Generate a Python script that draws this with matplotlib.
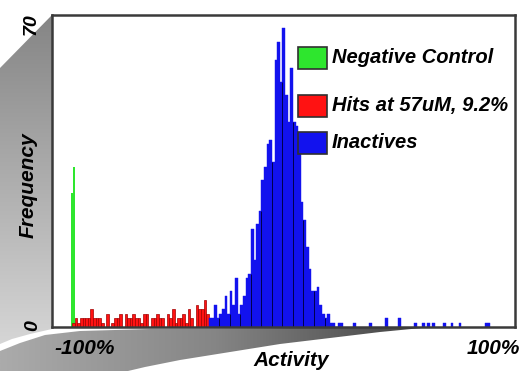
import numpy as np
import matplotlib.pyplot as plt
from matplotlib.patches import Polygon, Rectangle
from matplotlib.colors import LinearSegmentedColormap

# histogram data (activity in %, counts)
bin_width = 1.25

green_edges = [-100.6, -99.65]
green_counts = [30, 36]

red_start = -100.0
red_counts = [1, 2, 1, 2, 2, 2, 2, 4, 2, 2, 2, 1, 0, 3, 0, 1, 2, 2, 3, 0,
              3, 2, 2, 3, 2, 2, 1, 3, 3, 0, 2, 2, 3, 2, 2, 0, 3, 2, 4, 1,
              2, 2, 3, 1, 4, 2, 0, 5, 4, 4, 6, 3]

blue_start = -35.0
blue_counts = [2, 2, 5, 2, 3, 4, 7, 3, 8, 5, 11, 3, 5, 7, 11, 12, 22, 15, 23, 26,
               33, 36, 41, 42, 37, 60, 64, 55, 67, 52, 46, 58, 46, 45, 40, 28, 24, 18, 13, 8,
               8, 9, 5, 3, 2, 3, 1, 1, 0, 1, 1]
blue_tail_edges = [33.75, 41.25, 48.75, 55.0, 62.5, 66.25, 68.75, 71.25, 76.25, 80.0, 83.75, 96.25, 97.5]
blue_tail_counts = [1, 1, 2, 2, 1, 1, 1, 1, 1, 1, 1, 1, 1]

labels = ['Negative Control', 'Hits at 57uM, 9.2%', 'Inactives']
green, red, blue = '#2ee62e', '#ff1212', '#1212ee'

font = dict(family='Liberation Sans', weight='bold', style='italic')

fig = plt.figure(figsize=(5.27, 3.71), dpi=100)

# grey decoration behind the chart (pixel coordinates)
bg = fig.add_axes([0, 0, 1, 1])
bg.axis('off')
left_poly = Polygon([(0, 68), (52, 15), (52, 329), (30, 334), (12, 339), (0, 344)],
                    closed=True, fc='none', ec='none')
bg.add_patch(left_poly)
cm_left = LinearSegmentedColormap.from_list('l', ['#858585', '#d6d6d6'])
im = bg.imshow(np.linspace(0, 1, 256)[:, None], extent=(0, 52, 345, 15), origin='upper',
               cmap=cm_left, aspect='auto')
im.set_clip_path(left_poly)

band_poly = Polygon([(0, 351), (20, 343), (45, 335), (80, 331), (150, 329), (432, 327),
                     (380, 332), (330, 338), (280, 344), (230, 352), (180, 360),
                     (145, 367), (128, 371), (0, 371)], closed=True, fc='none', ec='none')
bg.add_patch(band_poly)
cm_band = LinearSegmentedColormap.from_list('b', ['#ababab', '#858585', '#404040'])
im2 = bg.imshow(np.linspace(0, 1, 256)[None, :], extent=(0, 432, 371, 326), origin='upper',
                cmap=cm_band, aspect='auto')
im2.set_clip_path(band_poly)
bg.set_xlim(0, 527)
bg.set_ylim(371, 0)

# main histogram axes
ax = fig.add_axes([52 / 527, 1 - 327 / 371, 463 / 527, 312 / 371])
ax.set_xlim(-109.5, 110.5)
ax.set_ylim(0, 70)

ax.bar(green_edges, green_counts, width=0.95, align='edge', color=green, lw=0)

red_x = red_start + bin_width * np.arange(len(red_counts))
ax.bar(red_x, red_counts, width=bin_width, align='edge', color=red, ec='#a00000', lw=0.5)

blue_x = blue_start + bin_width * np.arange(len(blue_counts))
ax.bar(blue_x, blue_counts, width=bin_width, align='edge', color=blue, ec=blue, lw=0.3)
ax.bar(blue_tail_edges, blue_tail_counts, width=bin_width, align='edge', color=blue, ec=blue, lw=0.3)

# darker edges of the coarser bins inside the blue peak
for i in range(4, len(blue_counts) - 4, 4):
    h = min(blue_counts[i - 1], blue_counts[i])
    ax.vlines(blue_x[i], 0, h, color='#00004a', lw=0.7)

for s in ax.spines.values():
    s.set_linewidth(1.8)
    s.set_color('#3a3a3a')
ax.set_xticks([])
ax.set_yticks([])

# legend drawn by hand (uneven spacing in the original)
box_y = [0.827, 0.673, 0.554]
for lab, col, y in zip(labels, [green, red, blue], box_y):
    ax.add_patch(Rectangle((0.531, y), 0.063, 0.071, transform=ax.transAxes,
                           fc=col, ec='#303030', lw=1.2))
    ax.text(0.605, y + 0.036, lab, transform=ax.transAxes, ha='left', va='center',
            size=14.5, **font)

# axis texts
fig.text(28 / 527, 1 - 185 / 371, 'Frequency', rotation=90, ha='center', va='center', size=15, **font)
fig.text(291 / 527, 1 - 360 / 371, 'Activity', ha='center', va='center', size=15, **font)
fig.text(85 / 527, 1 - 348 / 371, '-100%', ha='center', va='center', size=15, **font)
fig.text(493 / 527, 1 - 348 / 371, '100%', ha='center', va='center', size=15, **font)
fig.text(31.5 / 527, 1 - 24 / 371, '70', rotation=90, ha='center', va='center', size=14, **font)
fig.text(33 / 527, 1 - 326 / 371, '0', rotation=90, ha='center', va='center', size=14, **font)

fig.savefig('out.png', dpi=100)
